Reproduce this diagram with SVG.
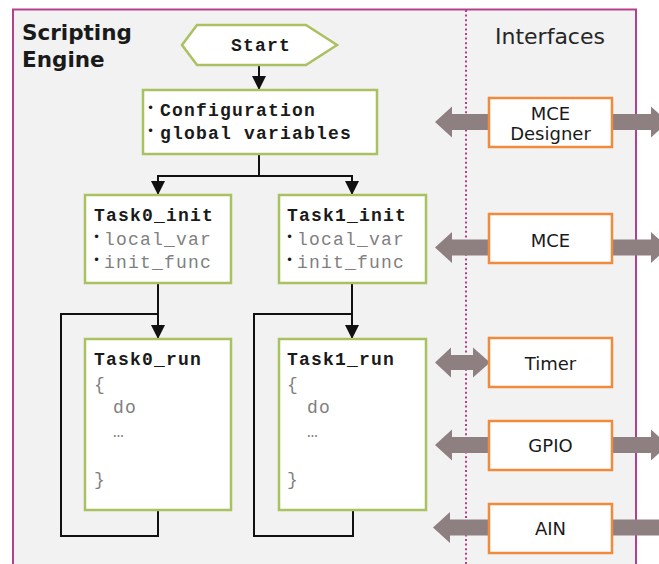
<svg xmlns="http://www.w3.org/2000/svg" width="659" height="564" viewBox="0 0 659 564">
  <style>
    .frame { fill: #f2f2f2; stroke: #b5408a; stroke-width: 2; }
    .divider { stroke: #b5408a; stroke-width: 2; stroke-dasharray: 2 2.6; fill: none; }
    .title { font-family: "DejaVu Sans", Verdana, sans-serif; font-weight: bold; font-size: 21.5px; fill: #1a1a1a; }
    .heading { font-family: "DejaVu Sans", Verdana, sans-serif; font-size: 22px; fill: #262626; }
    .step { fill: #ffffff; stroke: #a9c160; stroke-width: 2.5; }
    .iface { fill: #ffffff; stroke: #f08a3c; stroke-width: 2.5; }
    .code { font-family: "Liberation Mono", "Courier New", monospace; font-size: 18px; letter-spacing: 1.2px; fill: #1a1a1a; }
    .b { font-weight: bold; }
    .dim { fill: #7f7f7f; }
    .dot { font-family: "DejaVu Sans", sans-serif; font-size: 12px; fill: #1a1a1a; }
    .label { font-family: "DejaVu Sans", Verdana, sans-serif; font-size: 18px; fill: #1a1a1a; text-anchor: middle; }
    .flow { fill: none; stroke: #111111; stroke-width: 2; }
    .bus { fill: #8e7f81; }
  </style>
  <defs>
    <marker id="head" markerUnits="userSpaceOnUse" markerWidth="14" markerHeight="14" refX="14" refY="7" orient="auto">
      <path d="M0,0 L14,7 L0,14 z" fill="#111111"/>
    </marker>
  </defs>

  <!-- background and engine frame -->
  <rect x="0" y="0" width="659" height="564" fill="#ffffff"/>
  <rect class="frame" x="13" y="9.5" width="623" height="600"/>
  <line class="divider" x1="466" y1="10" x2="466" y2="564"/>

  <text class="title" x="22" y="40">Scripting</text>
  <text class="title" x="22" y="67">Engine</text>
  <text class="heading" x="495" y="44">Interfaces</text>

  <!-- connectors -->
  <g id="connectors">
    <path class="flow" d="M259,65 V90" marker-end="url(#head)"/>
    <path class="flow" d="M259,154 V176"/>
    <path class="flow" d="M157,176 H353"/>
    <path class="flow" d="M158,176 V195" marker-end="url(#head)"/>
    <path class="flow" d="M352,176 V195" marker-end="url(#head)"/>
    <path class="flow" d="M158,283 V339" marker-end="url(#head)"/>
    <path class="flow" d="M352,283 V339" marker-end="url(#head)"/>
    <path class="flow" d="M158,510 V536 H61 V314 H158"/>
    <path class="flow" d="M353,510 V536 H254 V314 H352"/>

    <!-- interface buses -->
    <polygon class="bus" points="489,114 452,114 452,106.5 435,122 452,137.5 452,130 489,130"/>
    <polygon class="bus" points="612,114 651,114 651,106.5 668,122 651,137.5 651,130 612,130"/>
    <polygon class="bus" points="489,239.5 452,239.5 452,232 435,247.5 452,263 452,255.5 489,255.5"/>
    <polygon class="bus" points="612,239.5 651,239.5 651,232 668,247.5 651,263 651,255.5 612,255.5"/>
    <polygon class="bus" points="451,355 473,355 473,347.5 490,362.5 473,377.5 473,370 451,370 451,377.5 435,362.5 451,347.5"/>
    <polygon class="bus" points="489,437 452,437 452,429.5 435,445 452,460.5 452,453 489,453"/>
    <polygon class="bus" points="612,437 651,437 651,429.5 668,445 651,460.5 651,453 612,453"/>
    <polygon class="bus" points="489,519.5 450,519.5 450,512 433,527.5 450,543 450,535.5 489,535.5"/>
    <rect class="bus" x="612" y="519.5" width="47" height="16"/>
  </g>

  <g id="start">
    <polygon class="step" points="182,45 197,25 306,25 337,45 306,65 197,65"/>
    <text class="code b" x="231" y="51">Start</text>
  </g>

  <g id="configuration">
    <rect class="step" x="143" y="90" width="234" height="64"/>
    <text class="dot" x="147" y="112">•</text>
    <text class="code b" x="160" y="116">Configuration</text>
    <text class="dot" x="147" y="135">•</text>
    <text class="code b" x="160" y="139">global variables</text>
  </g>

  <g id="task0-init">
    <rect class="step" x="85" y="195" width="146" height="88"/>
    <text class="code b" x="94" y="221">Task0_init</text>
    <text class="dot" x="93" y="241">•</text>
    <text class="code dim" x="104" y="245">local_var</text>
    <text class="dot" x="93" y="264">•</text>
    <text class="code dim" x="104" y="268">init_func</text>
  </g>

  <g id="task1-init">
    <rect class="step" x="279" y="195" width="147" height="88"/>
    <text class="code b" x="287" y="221">Task1_init</text>
    <text class="dot" x="286" y="241">•</text>
    <text class="code dim" x="297" y="245">local_var</text>
    <text class="dot" x="286" y="264">•</text>
    <text class="code dim" x="297" y="268">init_func</text>
  </g>

  <g id="task0-run">
    <rect class="step" x="85" y="339" width="146" height="171"/>
    <text class="code b" x="94" y="365">Task0_run</text>
    <text class="code dim" x="94" y="390">{</text>
    <text class="code dim" x="113" y="413">do</text>
    <text class="code dim" x="113" y="437">…</text>
    <text class="code dim" x="94" y="485">}</text>
  </g>

  <g id="task1-run">
    <rect class="step" x="279" y="339" width="147" height="171"/>
    <text class="code b" x="287" y="365">Task1_run</text>
    <text class="code dim" x="287" y="390">{</text>
    <text class="code dim" x="307" y="413">do</text>
    <text class="code dim" x="307" y="437">…</text>
    <text class="code dim" x="287" y="485">}</text>
  </g>

  <g id="mce-designer">
    <rect class="iface" x="489" y="98" width="123" height="49"/>
    <text class="label" x="550.5" y="120">MCE</text>
    <text class="label" x="550.5" y="140">Designer</text>
  </g>

  <g id="mce">
    <rect class="iface" x="489" y="214" width="123" height="49"/>
    <text class="label" x="550.5" y="247">MCE</text>
  </g>

  <g id="timer">
    <rect class="iface" x="489" y="338" width="123" height="49"/>
    <text class="label" x="550.5" y="370">Timer</text>
  </g>

  <g id="gpio">
    <rect class="iface" x="489" y="421" width="123" height="49"/>
    <text class="label" x="550.5" y="452">GPIO</text>
  </g>

  <g id="ain">
    <rect class="iface" x="489" y="504" width="123" height="49"/>
    <text class="label" x="550.5" y="535">AIN</text>
  </g>
</svg>
